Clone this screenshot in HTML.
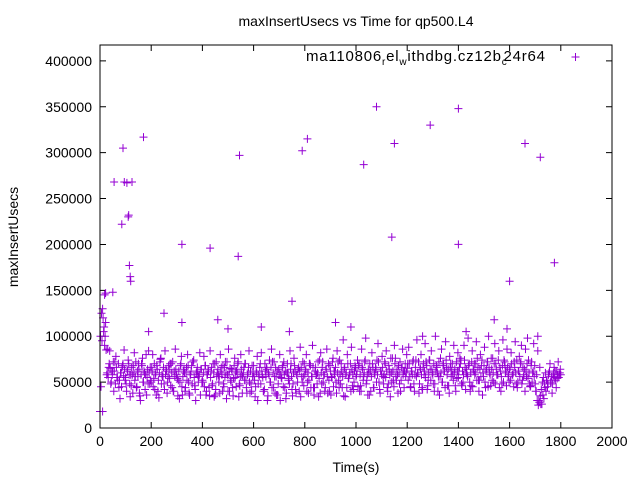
<!DOCTYPE html>
<html><head><meta charset="utf-8"><style>
body{margin:0;background:#fff}
svg{display:block;font-family:"Liberation Sans",sans-serif}
</style></head><body>
<svg id="chart" width="640" height="480">
<rect width="640" height="480" fill="#fff"/>
<text x="356" y="26" font-size="14" text-anchor="middle">maxInsertUsecs vs Time for qp500.L4</text>
<text x="356" y="472" font-size="14" text-anchor="middle">Time(s)</text>
<text transform="translate(18,237) rotate(-90)" font-size="14" text-anchor="middle">maxInsertUsecs</text>
<g id="axes"></g>
<g id="marks"></g>
<rect x="100" y="45" width="512" height="383" fill="none" stroke="#000" stroke-width="1"/>
<g>
<text x="306" y="61" font-size="15" textLength="239" lengthAdjust="spacing">ma110806<tspan font-size="10" dy="4">r</tspan><tspan dy="-4">el</tspan><tspan font-size="10" dy="4">w</tspan><tspan dy="-4">ithdbg.cz12b</tspan><tspan font-size="10" dy="4">c</tspan><tspan dy="-4" dx="-4">24r64</tspan></text>
<path d="M571.5 57h8M575.5 53v8" stroke="#9400d3" stroke-width="1"/>
</g>
</svg>
<script>
const xTicks=[0,200,400,600,800,1000,1200,1400,1600,1800,2000];
const yTicks=[0,50000,100000,150000,200000,250000,300000,350000,400000];
const bandA=[18,45,95,120,110,100,85,60,55,70,65,50,58,72,62,48,66,55,70,52,60,45,68,57,64,
55,40,62,70,48,58,66,38,60,52,72,45,56,64,35,58,68,50,62,42,80,55,48,60,66,
50,62,45,70,58,36,64,52,60,75,48,56,66,42,58,62,50,68,54,46,60,72,40,56,64,
58,35,62,50,70,45,56,64,40,60,52,68,38,58,62,48,72,55,42,60,66,50,58,36,64,
52,60,45,68,40,58,62,35,55,66,48,60,70,42,56,64,50,38,62,58,68,45,55,60,72,
40,58,65,50,62,35,68,55,45,60,72,48,56,64,38,60,52,70,44,58,66,50,62,40,56,
68,52,45,60,30,58,66,48,62,55,40,70,56,64,35,58,50,66,44,60,72,38,56,62,48,
60,30,55,66,45,58,62,38,70,52,48,64,56,35,60,68,42,58,50,66,62,34,56,72,46,
58,64,40,60,52,70,44,56,66,36,62,58,48,72,54,38,60,66,50,58,44,64,56,70,40,
62,55,72,45,58,66,38,60,52,74,48,62,56,35,66,58,44,70,54,60,40,64,58,50,68,
56,62,45,70,58,40,66,52,60,74,48,58,64,36,62,56,70,44,60,66,50,58,72,42,62,
58,66,48,72,55,62,40,68,58,76,50,62,45,70,56,64,38,60,72,52,66,58,44,70,60,
65,52,70,45,62,58,74,40,66,56,60,72,48,64,58,42,70,62,55,68,46,60,74,52,64,
58,70,48,62,66,40,72,56,60,50,68,62,44,74,58,64,38,66,56,70,52,60,46,72,62,
55,66,70,48,62,58,74,42,64,56,68,50,60,72,45,62,58,70,52,66,40,64,56,74,60,
68,50,62,72,45,66,58,76,52,60,70,48,64,58,74,44,62,56,68,50,72,60,46,66,58,
64,52,70,58,45,66,60,74,50,62,56,72,48,66,58,40,62,70,54,60,45,68,50,62,56,
48,40,30,25,28,35,42,50,55,48,60,52,45,58,62,50,56,48,60,55,52,62,58,55,60,58];
const bandAStart=0, bandAStep=4;
const bandB=[100,130,90,58,66,48,62,72,55,44,60,70,52,64,58,46,68,56,62,38,70,50,58,64,48,
66,54,60,40,72,58,48,64,56,70,44,62,58,52,68,36,60,66,50,58,72,46,62,56,64,
50,68,58,44,62,70,36,60,56,66,48,72,58,40,64,54,62,70,46,58,66,52,60,38,68,
56,62,48,70,58,42,66,60,50,72,56,36,64,58,68,44,60,54,70,48,62,58,40,66,56,
62,50,70,56,44,66,60,74,48,58,64,38,68,56,62,50,72,58,44,64,60,54,70,46,62,
58,68,46,64,72,52,60,40,66,58,74,50,62,56,70,44,64,60,52,76,58,48,66,62,56,
70,56,62,48,74,60,66,44,58,72,52,64,60,40,68,56,76,50,62,66,46,70,58,64,54,
62,74,50,66,58,70,46,64,60,76,52,68,56,44,72,60,64,50,70,58,66,48,74,62,56,
66,58,72,48,62,70,52,64,56,74,46,60,68,58,30,26,36,44,52,60,50,56,62,54,58];
const bandBStart=2, bandBStep=8;
const bandC=[125,105,115,86,84,62,40,78,52,32,66,85,48,74,34,58,82,44,70,30,76,60,36,84,52,
80,42,68,33,76,56,84,38,64,70,40,86,54,32,78,62,44,80,36,68,74,30,58,82,50,
78,36,64,84,46,34,72,58,80,40,66,32,86,52,44,76,62,34,80,56,70,38,84,48,60,
34,78,56,82,40,62,30,74,86,44,66,36,80,54,72,32,60,84,42,76,38,64,88,50,70,
80,38,68,90,44,58,34,82,72,40,86,52,36,76,62,84,44,70,96,34,80,58,88,42,66,
74,40,86,56,98,36,70,82,44,64,92,38,78,58,84,48,34,76,90,52,68,40,86,62,80,
88,44,72,58,96,38,80,66,92,42,74,84,48,100,60,36,86,70,94,46,78,62,90,40,82,
76,46,90,60,98,40,84,70,94,52,80,36,88,64,100,46,76,92,58,84,40,96,68,86,50,
82,60,94,44,78,90,56,86,98,48,72,92,40,84,66,26,32,40,48,70,38,66,44,72,64];
const bandCStart=6, bandCStep=8;
const outX=[10,18,22,50,55,85,90,95,105,110,112,115,118,120,125,170,190,250,320,320,430,460,500,540,545,630,740,750,790,810,1030,1080,1140,1150,1290,1400,1400,1540,1600,1660,1720,1775,180,920,980,1260,1430,1590,1710];
const outY=[18,145,147,148,268,222,305,268,267,230,232,177,165,160,268,317,105,125,200,115,196,118,108,187,297,110,105,138,302,315,287,350,208,310,330,348,200,118,160,310,295,180,80,115,110,100,105,108,100];
const sx=v=>100+v*512/2000;
const sy=v=>428-v*383/417300;
const NS="http://www.w3.org/2000/svg";
const axes=document.getElementById('axes'), marks=document.getElementById('marks');
xTicks.forEach(t=>{
 const x=sx(t);
 const p=document.createElementNS(NS,'path');
 p.setAttribute('d',`M${x} 428v-6M${x} 45v6`);p.setAttribute('stroke','#000');
 
 
 axes.appendChild(p);
 const tx=document.createElementNS(NS,'text');
 tx.setAttribute('x',x);tx.setAttribute('y',446);tx.setAttribute('font-size','14');tx.setAttribute('text-anchor','middle');
 tx.textContent=t;
 
 
 axes.appendChild(tx);
});
yTicks.forEach(t=>{
 const y=sy(t);
 const p=document.createElementNS(NS,'path');
 p.setAttribute('d',`M100 ${y}h6M612 ${y}h-6`);p.setAttribute('stroke','#000');
 
 
 axes.appendChild(p);
 const tx=document.createElementNS(NS,'text');
 tx.setAttribute('x',92);tx.setAttribute('y',y+5);tx.setAttribute('font-size','14');tx.setAttribute('text-anchor','end');
 tx.textContent=t;
 
 
 axes.appendChild(tx);
});
let d='';
function add(t,v){const x=sx(t),y=sy(v*1000);d+=`M${(x-4).toFixed(1)} ${y.toFixed(1)}h8M${x.toFixed(1)} ${(y-4).toFixed(1)}v8`;}
bandA.forEach((v,i)=>add(bandAStart+i*bandAStep,v));
bandB.forEach((v,i)=>add(bandBStart+i*bandBStep,v));
bandC.forEach((v,i)=>add(bandCStart+i*bandCStep,v));
outX.forEach((t,i)=>add(t,outY[i]));
const pts=document.createElementNS(NS,'path');
pts.setAttribute('d',d);pts.setAttribute('stroke','#9400d3');pts.setAttribute('stroke-width','1');pts.setAttribute('fill','none');


marks.appendChild(pts);
</script>
</body></html>
